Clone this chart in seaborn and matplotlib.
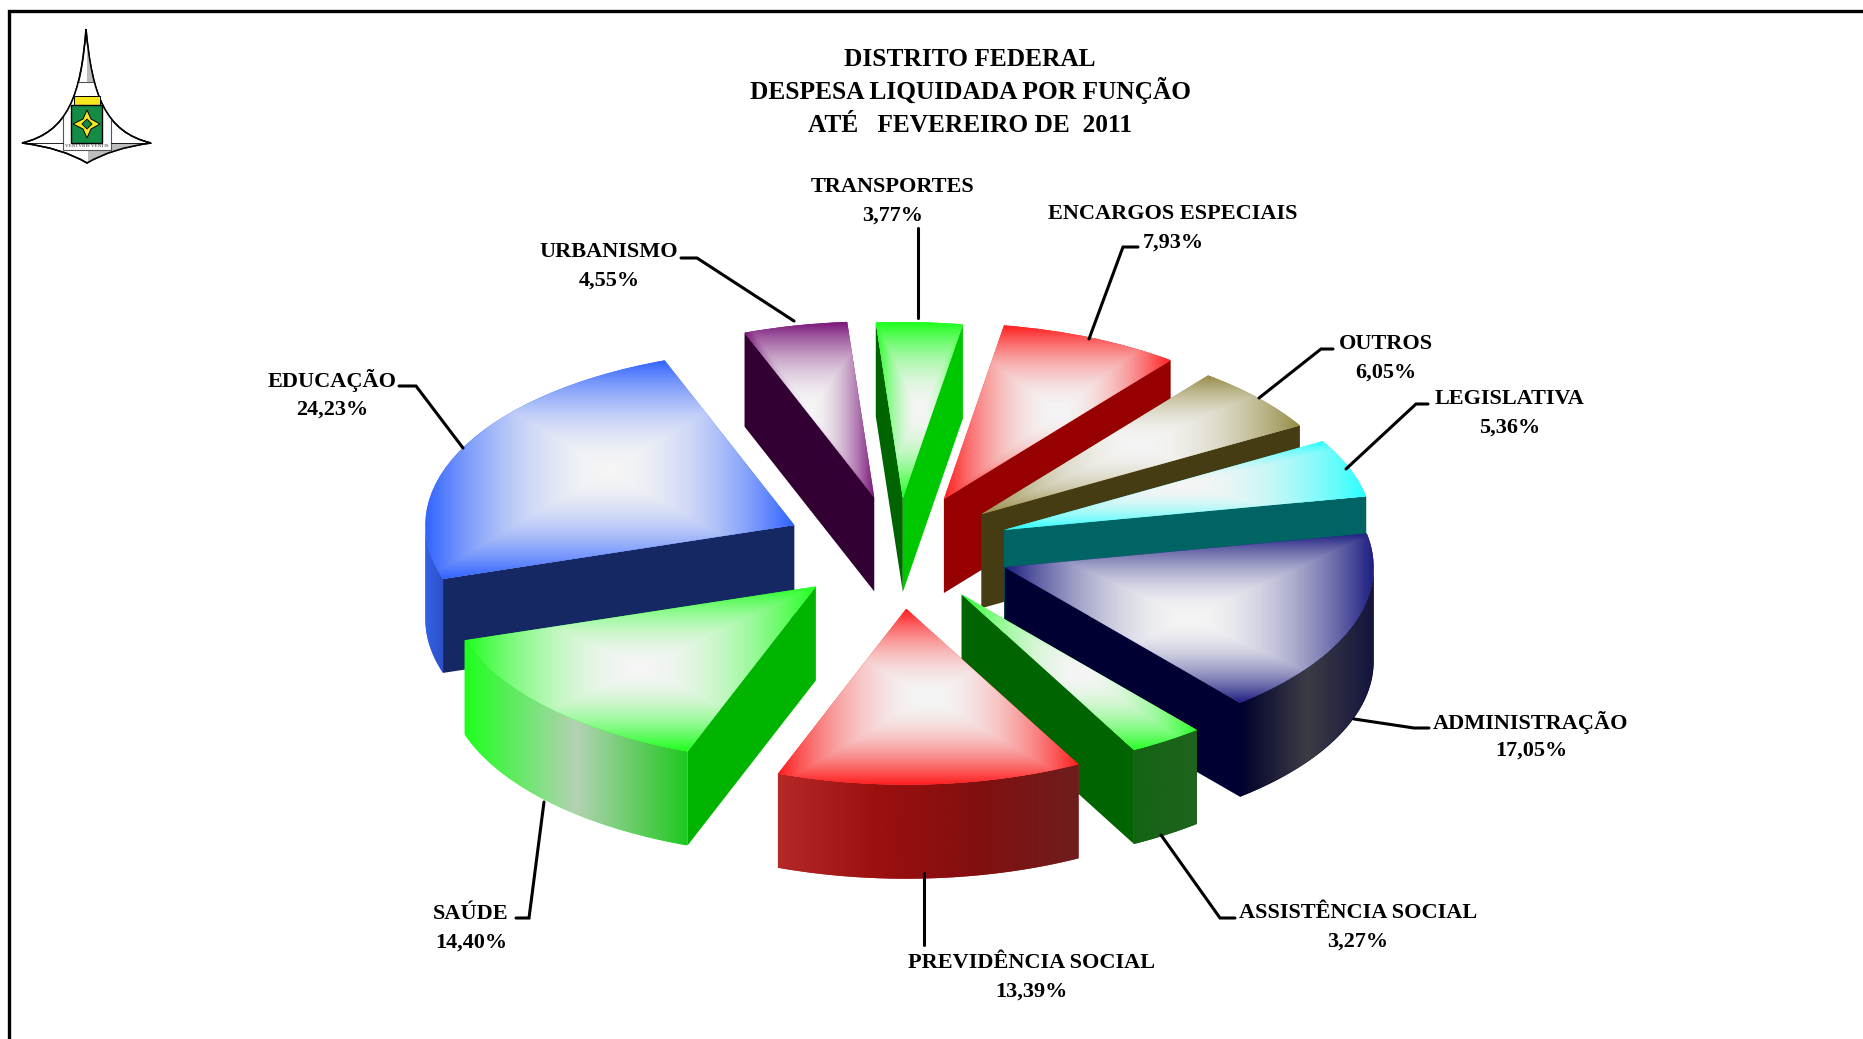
import numpy as np
import matplotlib
matplotlib.use("Agg")
import matplotlib.pyplot as plt
from matplotlib.path import Path
from matplotlib.patches import PathPatch, Polygon, Rectangle
import seaborn as sns

# slices, clockwise from the top of the pie
names = ["TRANSPORTES", "ENCARGOS ESPECIAIS", "OUTROS", "LEGISLATIVA", "ADMINISTRAÇÃO",
         "ASSISTÊNCIA SOCIAL", "PREVIDÊNCIA SOCIAL", "SAÚDE", "EDUCAÇÃO", "URBANISMO"]
values = [3.77, 7.93, 6.05, 5.36, 17.05, 3.27, 13.39, 14.40, 24.23, 4.55]
explode = [0.29, 0.31, 0.30, 0.307, 0.307, 0.31, 0.34, 0.308, 0.312, 0.30]

title_lines = ["DISTRITO FEDERAL", "DESPESA LIQUIDADA POR FUNÇÃO", "ATÉ   FEVEREIRO DE  2011"]

# top face colour at the edge of the gradient
top_colors = ["#1eff1e", "#ff1e1e", "#968c46", "#28ffff", "#1e1e82",
              "#28ff28", "#ff1e1e", "#1eff1e", "#3264ff", "#781478"]
# flat cut faces, left one and right one
left_faces = ["#006400", None, None, None, None, None, None, "#00b400", "#162864", "#320032"]
right_faces = ["#00c800", "#960000", "#463c14", "#006464", "#000032",
               "#006400", None, None, None, None]
# outer rim colours, left to right
rim_colors = [None, None, None, None, ["#00002d", "#3c3c46", "#14143c"],
              ["#146414", "#1e641e"], ["#b42828", "#9b0f0f", "#820f0f", "#6e1e1e"],
              ["#1eff1e", "#b4d2b4", "#1ec81e"], ["#3264e6", "#2d50c8"], None]

label_pos = [(893, 187), (1173, 214), (1386, 344), (1510, 399), (1531, 722),
             (1358, 913), (1031, 963), (471, 914), (332, 381), (609, 252)]
leaders = [[(918, 228), (918, 318)],
           [(1138, 247), (1123, 247), (1089, 339)],
           [(1333, 349), (1321, 349), (1259, 398)],
           [(1428, 404), (1416, 404), (1346, 469)],
           [(1429, 728), (1414, 728), (1354, 719)],
           [(1235, 918), (1220, 918), (1161, 835)],
           [(924, 873), (924, 945)],
           [(516, 918), (529, 918), (544, 802)],
           [(399, 386), (416, 386), (463, 448)],
           [(681, 258), (697, 258), (794, 321)]]

WIDTH, HEIGHT = 1863, 1039
CX, CY = 898, 549      # pie centre in pixels
RX, RY = 369, 176      # ellipse radii in pixels
DEPTH = 94 / RY        # pie thickness in axis units
SERIF = "Liberation Serif"


def draw_side(ax, pts, colors, zorder):
    # rim face, a horizontal gradient clipped to the polygon
    pts = np.array(pts)
    face = Polygon(pts, closed=True, facecolor=colors[0], edgecolor="none", zorder=zorder)
    ax.add_patch(face)
    cmap = sns.blend_palette(colors, as_cmap=True)
    img = ax.imshow(np.linspace(0, 1, 256).reshape(1, -1), cmap=cmap, aspect="auto", zorder=zorder,
                    extent=(pts[:, 0].min(), pts[:, 0].max(), pts[:, 1].min(), pts[:, 1].max()))
    img.set_clip_path(face)


def draw_top(ax, wedge, color, zorder):
    # Excel style "from centre" fill: white middle, colour on the bounding box edge
    box = wedge.get_path().get_extents()
    u, v = np.meshgrid(np.linspace(-1, 1, 240), np.linspace(-1, 1, 240))
    t = np.maximum(np.abs(u), np.abs(v)) ** 1.9
    cmap = sns.blend_palette(["#f5f5f5", color], as_cmap=True)
    wedge.set(facecolor=color, edgecolor="none", zorder=zorder)
    img = ax.imshow(t, cmap=cmap, vmin=0, vmax=1, aspect="auto", zorder=zorder,
                    extent=(box.x0, box.x1, box.y0, box.y1), interpolation="bilinear")
    img.set_clip_path(wedge)


def draw_slices(ax):
    wedges, _ = ax.pie(values, explode=explode, startangle=94.2, counterclock=False, radius=1)
    mids = [np.radians((w.theta1 + w.theta2) / 2) for w in wedges]
    order = np.argsort(-np.sin(mids))  # back to front
    for rank, i in enumerate(order):
        w = wedges[i]
        cx, cy = w.center
        z = 2 + rank * 3
        for theta, color in ((w.theta2, left_faces[i]), (w.theta1, right_faces[i])):
            if color is None:
                continue
            x = cx + np.cos(np.radians(theta))
            y = cy + np.sin(np.radians(theta))
            ax.add_patch(Polygon([(cx, cy), (x, y), (x, y - DEPTH), (cx, cy - DEPTH)], closed=True,
                                 facecolor=color, edgecolor="none", zorder=z))
        lo, hi = max(w.theta1, -180), min(w.theta2, 0)
        if lo < hi and rim_colors[i] is not None:
            a = np.radians(np.linspace(lo, hi, 80))
            xs = cx + np.cos(a)
            ys = cy + np.sin(a)
            pts = list(zip(xs, ys)) + list(zip(xs[::-1], ys[::-1] - DEPTH))
            draw_side(ax, pts, rim_colors[i], z + 1)
        draw_top(ax, w, top_colors[i], z + 2)


def draw_logo(ov):
    # brasao do DF, top left corner
    outline = Path([(86, 29), (81, 95), (68, 132), (22, 143),
                    (62, 148), (87, 163),
                    (112, 148), (151, 143),
                    (105, 132), (92, 95), (86, 29)],
                   [Path.MOVETO, Path.CURVE4, Path.CURVE4, Path.CURVE4,
                    Path.CURVE3, Path.CURVE3,
                    Path.CURVE3, Path.CURVE3,
                    Path.CURVE4, Path.CURVE4, Path.CURVE4])
    body = PathPatch(outline, facecolor="white", edgecolor="black", linewidth=1.1, zorder=2)
    ov.add_patch(body)
    right_spire = Rectangle((87, 20), 25, 62, facecolor="#bdbdbd", edgecolor="none", zorder=3)
    right_low = Polygon([(111, 143), (151, 143), (88, 166), (88, 150), (111, 150)], closed=True,
                        facecolor="#bdbdbd", edgecolor="none", zorder=3)
    inner = Rectangle((63, 82), 48, 68, facecolor="white", edgecolor="#555555", linewidth=0.8, zorder=3)
    for p in (right_spire, right_low, inner):
        ov.add_patch(p)
        p.set_clip_path(body)
    ov.add_patch(PathPatch(outline, facecolor="none", edgecolor="black", linewidth=1.1, zorder=4))
    ov.plot([22, 63], [143, 143], color="black", lw=0.6, zorder=4)
    ov.plot([111, 151], [143, 143], color="black", lw=0.6, zorder=4)
    ov.add_patch(Rectangle((74, 96), 26, 9, facecolor="#f5e61e", edgecolor="black",
                           linewidth=0.7, zorder=5))
    ov.add_patch(Rectangle((71, 105), 31, 38, facecolor="#148c46", edgecolor="black",
                           linewidth=1, zorder=5))
    ov.add_patch(Polygon([(87, 110), (91, 119), (100, 124), (91, 129), (87, 138), (83, 129),
                          (73, 124), (83, 119)], closed=True, facecolor="#f5e61e",
                         edgecolor="black", linewidth=0.7, zorder=6))
    ov.add_patch(Polygon([(87, 119), (92, 124), (87, 129), (82, 124)], closed=True,
                         facecolor="#148c46", edgecolor="black", linewidth=0.6, zorder=7))
    ov.text(86.5, 146, "VENTVRIS VENTIS", fontsize=3.6, ha="center", va="center",
            family=SERIF, zorder=7)


sns.set_theme(style="white")
plt.rcParams["font.family"] = [SERIF, "DejaVu Serif"]

fig = plt.figure(figsize=(WIDTH / 100, HEIGHT / 100), dpi=100, facecolor="white")

# pie axes: the limits squash the unit circle into the tilted ellipse
ax = fig.add_axes([0, 0, 1, 1])
draw_slices(ax)
ax.set_aspect("auto")
ax.set_xlim(-CX / RX, (WIDTH - CX) / RX)
ax.set_ylim((CY - HEIGHT) / RY, CY / RY)
ax.axis("off")

# overlay in pixels for the text, leader lines, frame and logo
ov = fig.add_axes([0, 0, 1, 1], facecolor="none")
ov.set_xlim(0, WIDTH)
ov.set_ylim(HEIGHT, 0)
ov.axis("off")

ov.plot([9, 9, WIDTH + 5], [HEIGHT + 5, 11, 11], color="black", lw=2.4, solid_joinstyle="miter")
draw_logo(ov)
ov.set_xlim(0, WIDTH)
ov.set_ylim(HEIGHT, 0)

for line, y in zip(title_lines, [59, 91, 125]):
    ov.text(970, y, line, ha="center", va="center", fontsize=18.3, fontweight="bold", color="black")

for name, val, (x, y), pts in zip(names, values, label_pos, leaders):
    pct = f"{val:.2f}%".replace(".", ",")
    ov.text(x, y, name, ha="center", va="center", fontsize=16, fontweight="bold", color="black")
    ov.text(x, y + 29, pct, ha="center", va="center", fontsize=16, fontweight="bold", color="black")
    ov.plot(*zip(*pts), color="black", lw=2.2, solid_joinstyle="miter")

fig.savefig("out.png", dpi=100)
